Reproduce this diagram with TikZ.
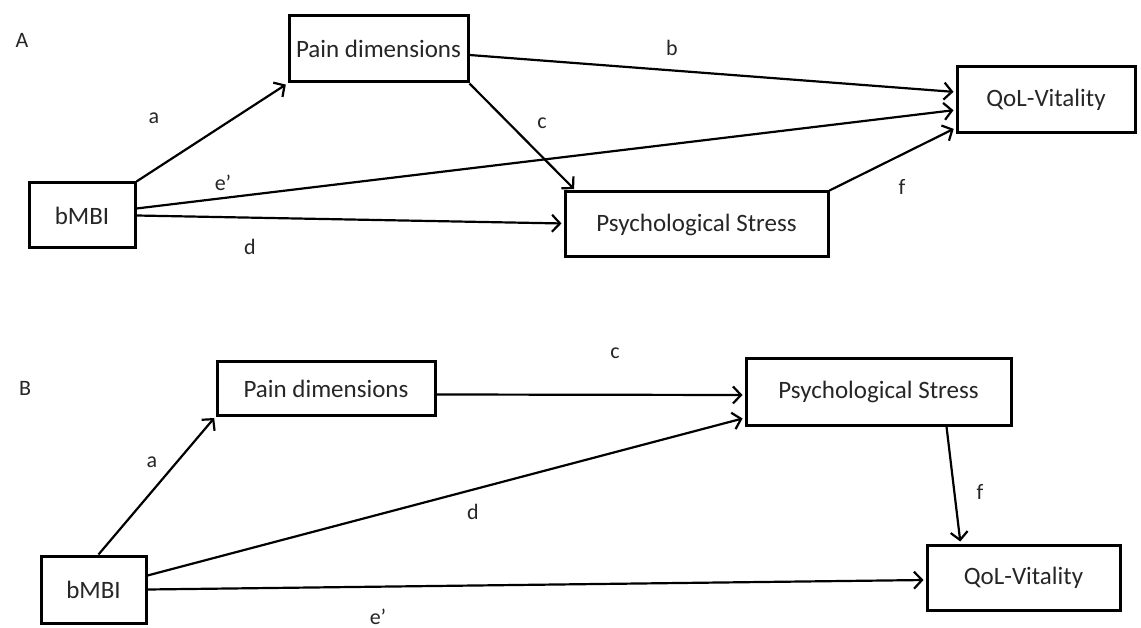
\documentclass[tikz,border=0pt]{standalone}
\usepackage{fontspec}
\setmainfont{Carlito}
\usetikzlibrary{arrows.meta,positioning}

\begin{document}
\begin{tikzpicture}[x=1pt,y=-1pt,
    varbox/.style={draw, line width=3pt, inner sep=0pt, text=black!85, font=\fontsize{25}{30}\selectfont},
    pathlbl/.style={inner sep=0pt, text=black!85, font=\fontsize{22}{26}\selectfont},
    arr/.style={line width=2.2pt, -{Straight Barb[length=8pt,width=17pt]}, shorten >=2pt}]
    \useasboundingbox[fill=white] (0,0) rectangle (1141,628);
    % panel A
    \node[pathlbl] (labA) at (22,40) {A};
    \node[varbox, minimum width=179pt, minimum height=66pt] (pdA) at (378.5,49) {Pain dimensions};
    \node[varbox, minimum width=106pt, minimum height=65pt] (bmA) at (82,215.5) {bMBI};
    \node[varbox, minimum width=263pt, minimum height=65pt] (psA) at (696.5,224.5) {Psychological Stress};
    \node[varbox, minimum width=178pt, minimum height=66pt] (qlA) at (1046,100) {QoL-Vitality};
    \draw[arr] (bmA.north east) -- (pdA.south west);
    \draw[arr] ([yshift=-6pt]pdA.east) -- ([yshift=8pt]qlA.west);
    \draw[arr] (pdA.south east) -- ([xshift=12pt]psA.north west);
    \draw[arr] ([yshift=7pt]bmA.east) -- ([yshift=-10pt]qlA.west);
    \draw[arr] (bmA.east) -- ([yshift=1pt]psA.west);
    \draw[arr] (psA.north east) -- ([yshift=-28pt]qlA.west);
    \node[pathlbl] (a1) at (154,118) {a};
    \node[pathlbl] (b1) at (672,48) {b};
    \node[pathlbl] (c1) at (542,123) {c};
    \node[pathlbl] (e1) at (223,183) {e'};
    \node[pathlbl] (d1) at (250,247) {d};
    \node[pathlbl] (f1) at (902,187) {f};
    % panel B
    \node[pathlbl] (labB) at (25,388) {B};
    \node[varbox, minimum width=218pt, minimum height=53pt] (pdB) at (326,388.5) {Pain dimensions};
    \node[varbox, minimum width=105pt, minimum height=67pt] (bmB) at (93.5,589.5) {bMBI};
    \node[varbox, minimum width=265pt, minimum height=66pt] (psB) at (878.5,392) {Psychological Stress};
    \node[varbox, minimum width=193pt, minimum height=65pt] (qlB) at (1023.5,577.5) {QoL-Vitality};
    \draw[arr] ([xshift=5pt]bmB.north) -- (pdB.south west);
    \draw[arr] ([yshift=-6pt]pdB.east) -- ([yshift=-3pt]psB.west);
    \draw[arr] ([yshift=14pt]bmB.east) -- ([yshift=-26pt]psB.west);
    \draw[arr] (bmB.east) -- ([yshift=-2.5pt]qlB.west);
    \draw[arr] ([xshift=68pt]psB.south) -- ([xshift=-63pt]qlB.north);
    \node[pathlbl] (a2) at (152,462) {a};
    \node[pathlbl] (c2) at (615,353) {c};
    \node[pathlbl] (d2) at (473,512) {d};
    \node[pathlbl] (f2) at (980,492) {f};
    \node[pathlbl] (e2) at (378,617) {e'};
\end{tikzpicture}
\end{document}
